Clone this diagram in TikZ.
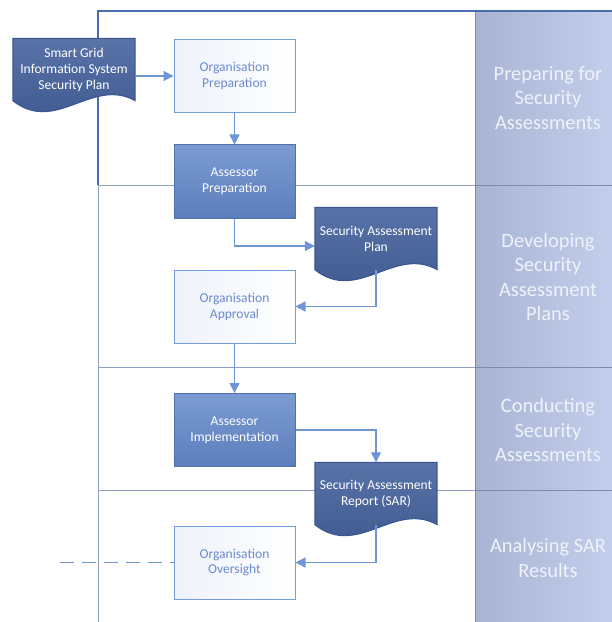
\documentclass[tikz,border=0pt]{standalone}
\usepackage{fontspec}
\setmainfont{Carlito}
\usetikzlibrary{arrows.meta,calc}
\definecolor{docfill}{HTML}{42609C}
\definecolor{docline}{HTML}{3A5590}
\definecolor{darkfill}{HTML}{6489CB}
\definecolor{darkline}{HTML}{5070B2}
\definecolor{lightline}{HTML}{769BDB}
\definecolor{lighttint}{HTML}{EEF2FB}
\definecolor{lighttext}{HTML}{6A8CCB}
\definecolor{connc}{HTML}{6F95D6}
\definecolor{laneline}{HTML}{939FC4}
\definecolor{poolline}{HTML}{4A6BAE}
\definecolor{colleft}{HTML}{A9B4D4}
\definecolor{colright}{HTML}{C2CEEB}
\definecolor{colsep}{HTML}{7E8AB2}
\definecolor{labtext}{HTML}{EEF2FA}
\pgfdeclarelayer{lanes}
\pgfdeclarelayer{docs}
\pgfsetlayers{lanes,docs,main}
\tikzset{
  lightbox/.style={draw=lightline, line width=1bp, left color=lighttint, right color=white,
    minimum width=121bp, minimum height=73bp, inner sep=0pt, text=lighttext,
    font=\fontsize{13.6}{16}\selectfont, align=center},
  darkbox/.style={draw=darkline, line width=1bp, top color=darkfill!85!white, bottom color=darkfill!92!black,
    minimum width=121bp, minimum height=73bp, inner sep=0pt, text=white,
    font=\fontsize{13.6}{16}\selectfont, align=center},
  docnode/.style={minimum width=122bp, minimum height=62bp, inner sep=0pt, text=white,
    font=\fontsize{13.6}{16}\selectfont, align=center},
  docshape/.style={draw=docline, line width=1bp, top color=docfill!88!white, bottom color=docfill!90!black},
  conn/.style={draw=connc, line width=1.3bp, -{Triangle[length=10bp,width=10bp]}},
  dashconn/.style={draw=connc, line width=1.3bp, dash pattern=on 14bp off 8bp},
  lanelabel/.style={text=labtext, font=\fontsize{20.5}{24.5}\selectfont, align=center},
}
\newcommand\docpath[1]{%
  \begin{pgfonlayer}{docs}
  \path[docshape] (#1.north west) -- (#1.north east) -- (#1.south east)
    .. controls +(-43,-24) and +(43,34) .. (#1.south west) -- cycle;
  \end{pgfonlayer}}
\begin{document}
\begin{tikzpicture}[x=1bp,y=-1bp]
\useasboundingbox (0,0) rectangle (612,622);
\begin{pgfonlayer}{lanes}
  \fill[white] (0,0) rectangle (612,622);
  \foreach \a/\b in {11/185,185/367,367/490,490/622}{
    \shade[left color=colleft, right color=colright] (475,\a) rectangle (612,\b);
  }
  \draw[colsep, line width=1bp] (475,11) -- (475,622);
  \foreach \yy in {185,367,490}{
    \draw[colsep, line width=1bp] (475,\yy) -- (612,\yy);
    \draw[laneline, line width=1bp] (98,\yy) -- (475,\yy);
  }
  \draw[laneline, line width=1bp] (98,185) -- (98,622);
  \draw[poolline, line width=1.6bp] (98,185) -- (98,11) -- (612,11);
\end{pgfonlayer}

\node[lanelabel] (l1) at (548,98) {Preparing for\\Security\\Assessments};
\node[lanelabel] (l2) at (548,277) {Developing\\Security\\Assessment\\Plans};
\node[lanelabel] (l3) at (548,430) {Conducting\\Security\\Assessments};
\node[lanelabel] (l4) at (548,558) {Analysing SAR\\Results};

\node[docnode] (sg) at (74,69.5) {Smart Grid\\Information System\\Security Plan};
\docpath{sg}
\node[lightbox] (orgprep) at (234.5,76) {Organisation\\Preparation};
\node[darkbox] (assprep) at (234.5,181.5) {Assessor\\Preparation};
\node[docnode] (sap) at (376,238.5) {Security Assessment\\Plan};
\docpath{sap}
\node[lightbox] (orgapp) at (234.5,306.5) {Organisation\\Approval};
\node[darkbox] (assimp) at (234.5,430) {Assessor\\Implementation};
\node[docnode] (sar) at (376,493.5) {Security Assessment\\Report (SAR)};
\docpath{sar}
\node[lightbox] (overs) at (234.5,562.5) {Organisation\\Oversight};
\coordinate (dashend) at (60,562.5);

\draw[conn] (sg.east |- orgprep.west) -- (orgprep.west);
\draw[conn] (orgprep) -- (assprep);
\draw[conn] (assprep.south) |- ($(sap.west)+(0,7.5)$);
\draw[conn] (sap.south) |- (orgapp.east);
\draw[conn] (orgapp) -- (assimp);
\draw[conn] (assimp.east) -| (sar.north);
\draw[conn] (sar.south) |- (overs.east);
\draw[dashconn] (dashend) -- (overs.west);
\end{tikzpicture}
\end{document}
